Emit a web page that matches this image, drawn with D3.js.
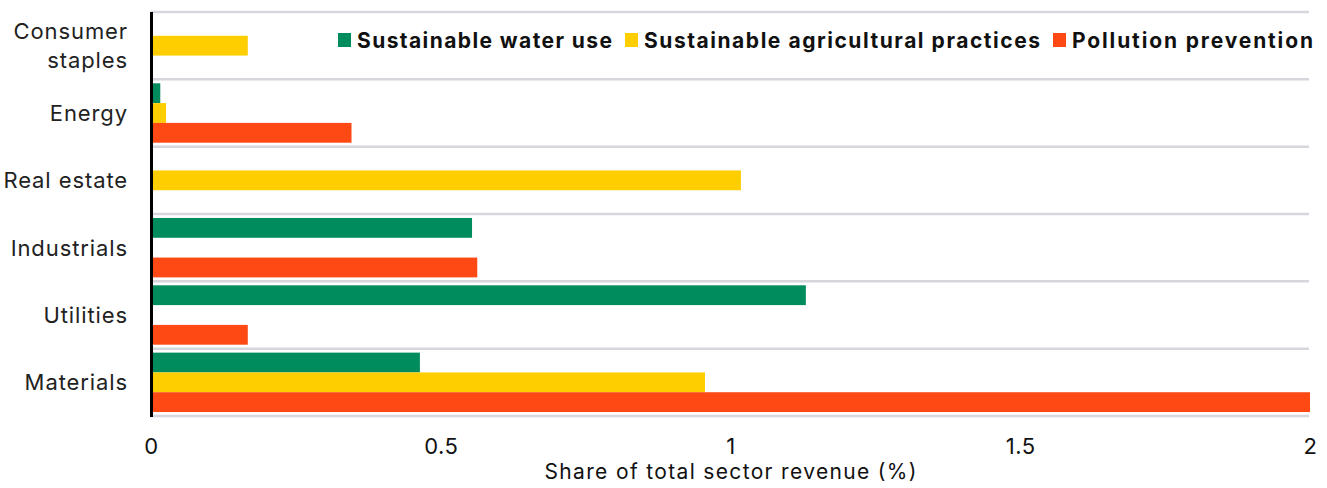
<!DOCTYPE html>
<html>
<head>
<meta charset="utf-8">
<script src="https://cdn.jsdelivr.net/npm/d3@7"></script>
<style>
  html, body { margin: 0; padding: 0; background: #fff; }
  svg { display: block; }
</style>
</head>
<body>
<div id="chart"></div>
<script>
// Sector categories, top to bottom
const sectors = ["Consumer staples", "Energy", "Real estate", "Industrials", "Utilities", "Materials"];
const seriesNames = ["Sustainable water use", "Sustainable agricultural practices", "Pollution prevention"];
const seriesColors = ["#008C5C", "#FFCE00", "#FF4914"];

// Share of total sector revenue (%), null = no bar
const waterUse       = [null, 0.016, null, 0.554, 1.13, 0.464];
const agricultural   = [0.167, 0.026, 1.018, null, null, 0.956];
const pollution      = [null, 0.346, null, 0.563, 0.167, 2.0];

const xTicks = [0, 0.5, 1, 1.5, 2];

(function () {
  const W = 1327, H = 488;
  const X0 = 151, X1 = 1310, Y0 = 12, Y1 = 416;
  const FONT = "Inter, 'Open Sans', sans-serif";
  const series = [waterUse, agricultural, pollution];

  const svg = d3.select("#chart").append("svg").attr("width", W).attr("height", H);

  const x = d3.scaleLinear().domain([0, 2]).range([X0, X1]);
  const y = d3.scaleBand().domain(sectors).range([Y0, Y1]).paddingInner(0).paddingOuter(0);
  const sub = d3.scaleBand().domain(d3.range(3)).range([0, y.bandwidth()]).paddingOuter(0.2).paddingInner(0);

  // horizontal separators at band edges
  const edges = sectors.map((s) => y(s)).concat([Y1]);
  svg.append("g").selectAll("line").data(edges).join("line")
    .attr("x1", X0).attr("x2", X1 - 1)
    .attr("y1", (d) => d).attr("y2", (d) => d)
    .attr("stroke", "#D6D6DD").attr("stroke-width", 2.5);

  // bars
  const bars = [];
  series.forEach((vals, si) => vals.forEach((v, ci) => {
    if (v != null) bars.push({ si, sector: sectors[ci], v });
  }));
  svg.append("g").selectAll("rect").data(bars).join("rect")
    .attr("x", x(0))
    .attr("y", (d) => y(d.sector) + sub(d.si))
    .attr("width", (d) => x(d.v) - x(0))
    .attr("height", sub.bandwidth())
    .attr("fill", (d) => seriesColors[d.si]);

  // left axis line
  svg.append("line")
    .attr("x1", X0 + 0.5).attr("x2", X0 + 0.5)
    .attr("y1", Y0).attr("y2", Y1 + 1)
    .attr("stroke", "#000").attr("stroke-width", 3);

  // category labels
  const lab = svg.append("g").selectAll("text").data(sectors).join("text")
    .attr("text-anchor", "end")
    .attr("fill", "#222")
    .style("font", `22px ${FONT}`)
    .style("letter-spacing", "0.9px");
  lab.each(function (d) {
    const t = d3.select(this);
    const cy = y(d) + y.bandwidth() / 2;
    const lines = d === "Consumer staples" ? ["Consumer", "staples"] : [d];
    lines.forEach((ln, i) => {
      t.append("tspan")
        .attr("x", 128)
        .attr("y", cy + (i - (lines.length - 1) / 2) * 29)
        .attr("dy", "0.36em")
        .text(ln);
    });
  });

  // x axis
  const ax = svg.append("g")
    .attr("transform", `translate(0,${Y1})`)
    .call(d3.axisBottom(x).tickValues(xTicks).tickFormat(d3.format("")).tickSize(0).tickPadding(22));
  ax.select(".domain").remove();
  ax.selectAll("text").attr("fill", "#111").style("font", `22px ${FONT}`).style("letter-spacing", "0.5px");

  svg.append("text")
    .attr("x", (X0 + X1) / 2).attr("y", 479)
    .attr("text-anchor", "middle").attr("fill", "#111")
    .style("font", `21px ${FONT}`)
    .attr("textLength", 372).attr("lengthAdjust", "spacing")
    .text("Share of total sector revenue (%)");

  // legend, laid out right to left ending at the plot edge
  const legW = [255, 396, 241];
  let cursor = 1313;
  const legend = svg.append("g");
  for (let i = seriesNames.length - 1; i >= 0; i--) {
    const tx = cursor - legW[i];
    const g = legend.append("g").attr("transform", `translate(${tx},40)`);
    g.append("rect").attr("x", -19).attr("y", -7).attr("width", 13).attr("height", 14).attr("fill", seriesColors[i]);
    g.append("text").attr("x", 0).attr("dy", "0.36em")
      .attr("fill", "#111")
      .style("font", `bold 21px ${FONT}`)
      .attr("textLength", legW[i]).attr("lengthAdjust", "spacing")
      .text(seriesNames[i]);
    cursor = tx - 32;
  }
})();
</script>
</body>
</html>
